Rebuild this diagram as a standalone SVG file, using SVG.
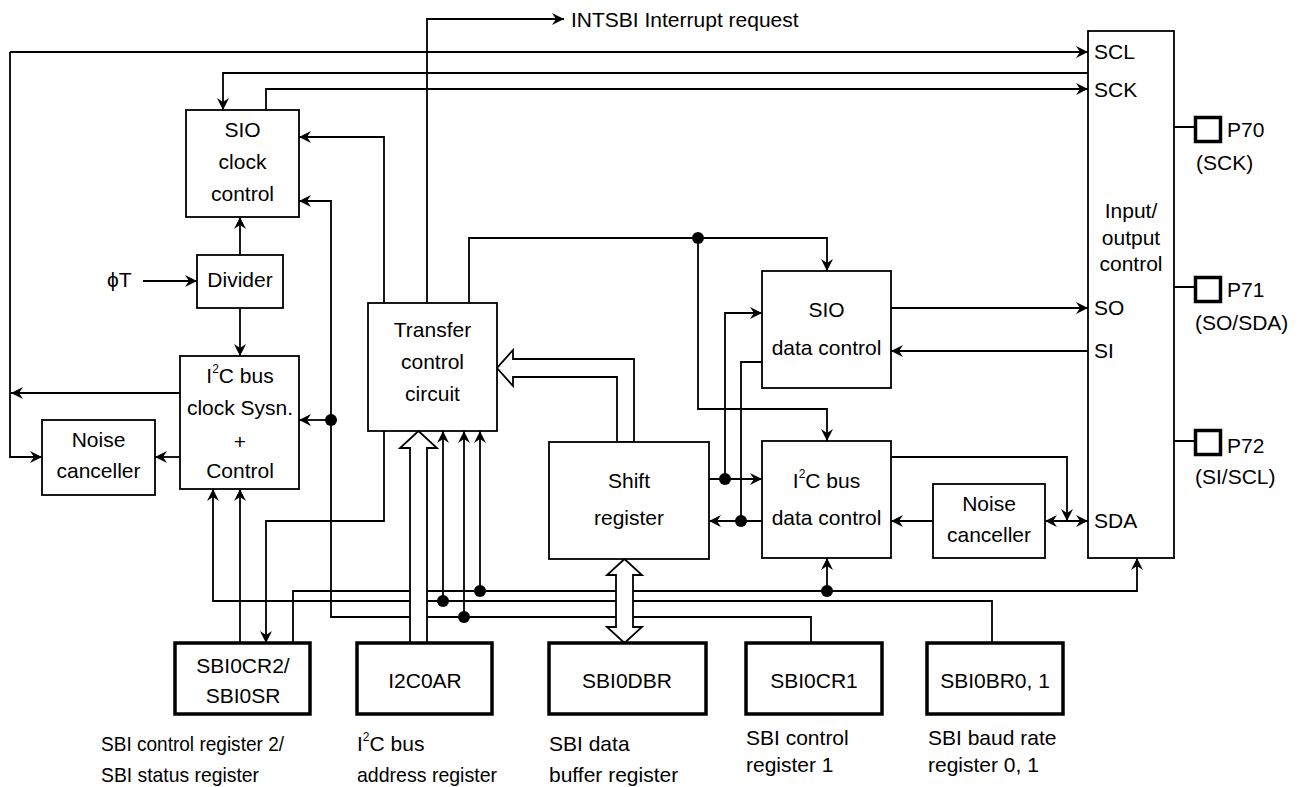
<svg xmlns="http://www.w3.org/2000/svg" width="1303" height="787" viewBox="0 0 1303 787">
<style>
text{font-family:"Liberation Sans",Arial,sans-serif;font-size:21px;fill:#000}
.m{text-anchor:middle}
.box{fill:#fff;stroke:#000;stroke-width:1.8}
.reg{fill:#fff;stroke:#000;stroke-width:3.5}
.pin{fill:#fff;stroke:#000;stroke-width:3.5}
.ln{fill:none;stroke:#000;stroke-width:1.8}
.ar{fill:none;stroke:#000;stroke-width:1.8;marker-end:url(#ah)}
.hol{fill:#fff;stroke:#000;stroke-width:1.8;stroke-linejoin:miter}
.sup{font-size:12px}
</style>
<defs>
<marker id="ah" markerUnits="userSpaceOnUse" markerWidth="14" markerHeight="14" viewBox="-1 -7 14 14" refX="12" refY="0" orient="auto-start-reverse">
<path d="M0,-6 L12,0 L0,6 L4,0 z" fill="#000"/>
</marker>
</defs>
<rect width="1303" height="787" fill="#fff"/>

<g id="connectors">
<path class="ar" d="M10,52 H1088"/>
<path class="ar" d="M10,52 V457 H42"/>
<path class="ar" d="M180,393 H11"/>
<path class="ar" d="M1088,73 H223 V110"/>
<path class="ar" d="M266,110 V89 H1088"/>
<path class="ar" d="M427,303 V19 H564"/>
<path class="ar" d="M384,303 V137 H299"/>
<path class="ar" d="M811,643 V617 H331 V201 H299"/>
<path class="ar" d="M331,420 H299"/>
<path class="ar" d="M240,255 V217"/>
<path class="ar" d="M240,308 V356"/>
<path class="ar" d="M143,281 H197"/>
<path class="ar" d="M180,457 H155"/>
<path class="ar" d="M240,643 V489"/>
<path class="ar" d="M992,643 V601 H213 V489"/>
<path class="ar" d="M293,643 V591 H1137 V558"/>
<path class="ar" d="M384,431 V521 H266 V643"/>
<path class="ar" d="M443,601 V431"/>
<path class="ar" d="M464,617 V431"/>
<path class="ar" d="M480,591 V431"/>
<path class="ar" d="M827,591 V558"/>
<path class="ar" d="M469,303 V238 H827 V271"/>
<path class="ar" d="M698,238 V409 H827 V441"/>
<path class="ar" d="M709,479 H762"/>
<path class="ar" d="M725,479 V313 H762"/>
<path class="ar" d="M762,521 H709"/>
<path class="ln" d="M762,362 H741 V521"/>
<path class="ar" d="M891,308 H1088"/>
<path class="ar" d="M1088,351 H891"/>
<path class="ar" d="M891,457 H1067 V521"/>
<path class="ar" d="M1045,521 H1088" marker-start="url(#ah)"/>
<path class="ar" d="M933,521 H891"/>
<path class="ln" d="M1174,127 H1194 M1174,287 H1194 M1174,441 H1194"/>
<g fill="#000">
<circle cx="331" cy="420" r="6"/>
<circle cx="443" cy="601" r="6"/>
<circle cx="464" cy="617" r="6"/>
<circle cx="480" cy="591" r="6"/>
<circle cx="827" cy="591" r="6"/>
<circle cx="698" cy="238" r="6"/>
<circle cx="725" cy="479" r="6"/>
<circle cx="741" cy="521" r="6"/>
</g>
<polygon class="hol" points="410,643 410,448 400,448 418.5,431 437,448 427,448 427,643"/>
<polygon class="hol" points="617,442 617,377 513,377 513,386 497,368 513,350 513,359 634,359 634,442"/>
<polygon class="hol" points="616,575 607,575 624.5,559 642,575 633,575 633,627 642,627 624.5,643 607,627 616,627"/>
</g>

<text x="571" y="27">INTSBI Interrupt request</text>
<text x="107" y="287">ϕT</text>

<g id="sio-clock">
<rect class="box" x="186" y="110" width="113" height="107"/>
<text class="m" x="242.5" y="137">SIO</text>
<text class="m" x="242.5" y="169">clock</text>
<text class="m" x="242.5" y="201">control</text>
</g>
<g id="divider">
<rect class="box" x="197" y="255" width="86" height="53"/>
<text class="m" x="240" y="287">Divider</text>
</g>
<g id="i2c-clock">
<rect class="box" x="180" y="356" width="119" height="133"/>
<text class="m" x="240" y="383">I<tspan class="sup" dy="-10">2</tspan><tspan dy="10">C bus</tspan></text>
<text class="m" x="240" y="415">clock Sysn.</text>
<text class="m" x="240" y="449">+</text>
<text class="m" x="240" y="478">Control</text>
</g>
<g id="noise-left">
<rect class="box" x="42" y="420" width="113" height="75"/>
<text class="m" x="98.5" y="447">Noise</text>
<text class="m" x="98.5" y="478">canceller</text>
</g>
<g id="transfer">
<rect class="box" x="368" y="303" width="129" height="128"/>
<text class="m" x="432.5" y="337">Transfer</text>
<text class="m" x="432.5" y="369">control</text>
<text class="m" x="432.5" y="401">circuit</text>
</g>
<g id="shift">
<rect class="box" x="549" y="442" width="160" height="117"/>
<text class="m" x="629" y="488">Shift</text>
<text class="m" x="629" y="525">register</text>
</g>
<g id="sio-data">
<rect class="box" x="762" y="271" width="129" height="117"/>
<text class="m" x="826.5" y="317">SIO</text>
<text class="m" x="826.5" y="355">data control</text>
</g>
<g id="i2c-data">
<rect class="box" x="762" y="441" width="129" height="117"/>
<text class="m" x="826.5" y="488">I<tspan class="sup" dy="-10">2</tspan><tspan dy="10">C bus</tspan></text>
<text class="m" x="826.5" y="525">data control</text>
</g>
<g id="noise-right">
<rect class="box" x="933" y="484" width="112" height="74"/>
<text class="m" x="989" y="511">Noise</text>
<text class="m" x="989" y="542">canceller</text>
</g>
<g id="io">
<rect class="box" x="1088" y="31" width="86" height="527"/>
<text x="1094" y="59">SCL</text>
<text x="1094" y="97">SCK</text>
<text class="m" x="1131" y="218">Input/</text>
<text class="m" x="1131" y="245">output</text>
<text class="m" x="1131" y="271">control</text>
<text x="1094" y="315">SO</text>
<text x="1094" y="358">SI</text>
<text x="1094" y="528">SDA</text>
</g>
<g id="p70">
<rect class="pin" x="1195.5" y="117.5" width="25" height="24"/>
<text x="1227" y="137">P70</text>
<text x="1196" y="170">(SCK)</text>
</g>
<g id="p71">
<rect class="pin" x="1195.5" y="277.5" width="25" height="24"/>
<text x="1227" y="297">P71</text>
<text x="1195" y="330">(SO/SDA)</text>
</g>
<g id="p72">
<rect class="pin" x="1195.5" y="430.5" width="25" height="24"/>
<text x="1227" y="453">P72</text>
<text x="1195" y="484">(SI/SCL)</text>
</g>

<g id="sbi0cr2">
<rect class="reg" x="175" y="643" width="135" height="71"/>
<text class="m" x="243" y="673">SBI0CR2/</text>
<text class="m" x="243" y="703">SBI0SR</text>
<text x="101" y="751" textLength="183" lengthAdjust="spacingAndGlyphs">SBI control register 2/</text>
<text x="101" y="782" textLength="158" lengthAdjust="spacingAndGlyphs">SBI status register</text>
</g>
<g id="i2c0ar">
<rect class="reg" x="357" y="643" width="135" height="71"/>
<text class="m" x="425" y="688">I2C0AR</text>
<text x="357" y="751">I<tspan class="sup" dy="-10">2</tspan><tspan dy="10">C bus</tspan></text>
<text x="357" y="782" textLength="140" lengthAdjust="spacingAndGlyphs">address register</text>
</g>
<g id="sbi0dbr">
<rect class="reg" x="549" y="643" width="157" height="71"/>
<text class="m" x="627" y="688">SBI0DBR</text>
<text x="549" y="751">SBI data</text>
<text x="549" y="782">buffer register</text>
</g>
<g id="sbi0cr1">
<rect class="reg" x="746" y="643" width="136" height="71"/>
<text class="m" x="814" y="688">SBI0CR1</text>
<text x="746" y="745">SBI control</text>
<text x="746" y="772">register 1</text>
</g>
<g id="sbi0br">
<rect class="reg" x="927" y="643" width="136" height="71"/>
<text class="m" x="995" y="688">SBI0BR0, 1</text>
<text x="928" y="745">SBI baud rate</text>
<text x="928" y="772">register 0, 1</text>
</g>
</svg>
